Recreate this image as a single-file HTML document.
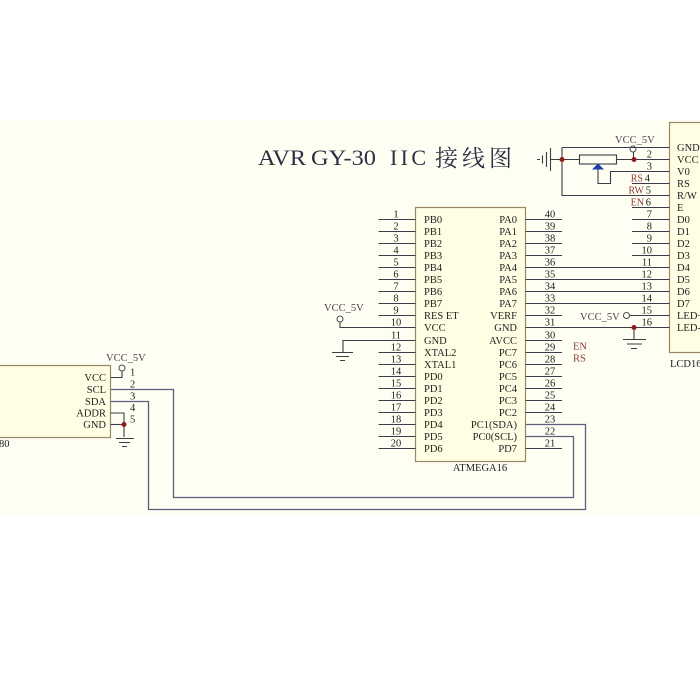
<!DOCTYPE html>
<html><head><meta charset="utf-8"><style>
html,body{margin:0;padding:0;background:#fff;}
svg{display:block;}
</style></head><body>
<svg width="700" height="700" viewBox="0 0 700 700" xmlns="http://www.w3.org/2000/svg" font-family="'Liberation Serif', 'Noto Serif CJK SC', serif">
<rect x="0" y="0" width="700" height="700" fill="#ffffff"/>
<rect x="0" y="120" width="700" height="396" fill="#fefef3"/>

<!-- Title -->
<g fill="#2e2e44" font-size="22">
<text x="258" y="165" textLength="48" lengthAdjust="spacingAndGlyphs">AVR</text>
<text x="311" y="165" textLength="65" lengthAdjust="spacingAndGlyphs">GY-30</text>
<text x="390" y="165" textLength="36">IIC</text>
<text x="435" y="166" font-size="23" textLength="77" font-family="'Liberation Serif','Noto Serif CJK SC',serif">接线图</text>
</g>

<!-- Boxes -->
<rect x="415.5" y="207.5" width="110" height="254" fill="#fffde3" stroke="#968866" stroke-width="1.2"/>
<rect x="669.5" y="122.5" width="45" height="230" fill="#fffde3" stroke="#968866" stroke-width="1.2"/>
<rect x="-5" y="365.5" width="115.5" height="72" fill="#fffde3" stroke="#968866" stroke-width="1.2"/>

<!-- Pin lines -->
<g stroke="#3c3c48" stroke-width="1.1" fill="none">
<path d="M378.5 219.5H415.5M378.5 231.5H415.5M378.5 243.5H415.5M378.5 255.5H415.5M378.5 267.5H415.5M378.5 279.5H415.5M378.5 291.5H415.5M378.5 303.5H415.5M378.5 315.5H415.5"/>
<path d="M340 322V327.5H415.5"/>
<path d="M343 352V340.5H415.5"/>
<path d="M378.5 352.5H415.5M378.5 364.5H415.5M378.5 376.5H415.5M378.5 388.5H415.5M378.5 400.5H415.5M378.5 412.5H415.5M378.5 424.5H415.5M378.5 436.5H415.5M378.5 448.5H415.5"/>
<path d="M525.5 219.5H562M525.5 231.5H562M525.5 243.5H562M525.5 255.5H562"/>
<path d="M525.5 267.5H669.5M525.5 279.5H669.5M525.5 291.5H669.5M525.5 303.5H669.5"/>
<path d="M525.5 315.5H562"/>
<path d="M525.5 327.5H669.5"/>
<path d="M525.5 340.5H562M525.5 352.5H562M525.5 364.5H562M525.5 376.5H562M525.5 388.5H562M525.5 400.5H562M525.5 412.5H562M525.5 448.5H562"/>
<path d="M562 147.5H669.5M562 147.5V195.5H669.5"/>
<path d="M551 159.5H579.5M616.5 159.5H669.5"/>
<path d="M598 169V183.5H610.5V171.5H669.5"/>
<path d="M632 183.5H669.5M632 207.5H669.5"/>
<path d="M632 219.5H669.5M632 231.5H669.5M632 243.5H669.5M632 255.5H669.5"/>
<path d="M629.5 315.5H669.5"/>
<path d="M633.5 152V159.5"/>
<path d="M550.5 148V171M546.5 152V167M542.5 155.5V163.5M537 159.5H540"/>
<path d="M332 352.5H353M336 356.5H349M340 360.5H345"/>
<path d="M634 327.5V339M623 339.5H646M627 344H642M631 348.5H637"/>
<path d="M110.5 377.5H122V371"/>
<path d="M110.5 413H124V437"/>
<path d="M110.5 424.5H124"/>
<path d="M116 438.5H134M119 442.5H130M122 446.5H127"/>
</g>

<!-- Loop wires -->
<g stroke="#5f5f7c" stroke-width="1.3" fill="none">
<path d="M525.5 424.5H585.5V509.5H148.5V401.5H110.5"/>
<path d="M525.5 436.5H573.5V497.5H173.5V389.5H110.5"/>
</g>

<!-- Potentiometer -->
<rect x="579.5" y="155" width="37" height="9" fill="#fefef3" stroke="#3c3c48" stroke-width="1.1"/>
<polygon points="598,163.5 592,169.5 604,169.5" fill="#1c3aa8"/>

<!-- VCC circles -->
<g stroke="#4a4a55" stroke-width="1" fill="none">
<circle cx="633" cy="149" r="3"/>
<circle cx="340" cy="319" r="3"/>
<circle cx="626.5" cy="315.5" r="3"/>
<circle cx="122" cy="368" r="3"/>
</g>

<!-- junctions -->
<g fill="#8b1c1c">
<circle cx="562" cy="159.5" r="2.5"/>
<circle cx="634" cy="159.5" r="2.5"/>
<circle cx="634" cy="327.5" r="2.5"/>
<circle cx="124" cy="424.5" r="2.5"/>
</g>

<!-- VCC labels -->
<g fill="#4a4452" font-size="10.5">
<text x="615" y="143">VCC_5V</text>
<text x="324" y="311">VCC_5V</text>
<text x="580" y="320">VCC_5V</text>
<text x="106" y="361">VCC_5V</text>
</g>

<!-- chip left numbers -->
<g fill="#222" font-size="10.5" text-anchor="middle">
<text x="396" y="217.5">1</text><text x="396" y="229.5">2</text><text x="396" y="241.5">3</text><text x="396" y="253.5">4</text><text x="396" y="265.5">5</text><text x="396" y="277.5">6</text><text x="396" y="289.5">7</text><text x="396" y="301.5">8</text><text x="396" y="313.5">9</text><text x="396" y="325.5">10</text><text x="396" y="338.5">11</text><text x="396" y="350.5">12</text><text x="396" y="362.5">13</text><text x="396" y="374.5">14</text><text x="396" y="386.5">15</text><text x="396" y="398.5">16</text><text x="396" y="410.5">17</text><text x="396" y="422.5">18</text><text x="396" y="434.5">19</text><text x="396" y="446.5">20</text>
</g>
<!-- chip right numbers -->
<g fill="#222" font-size="10.5" text-anchor="middle">
<text x="550" y="217.5">40</text><text x="550" y="229.5">39</text><text x="550" y="241.5">38</text><text x="550" y="253.5">37</text><text x="550" y="265.5">36</text><text x="550" y="277.5">35</text><text x="550" y="289.5">34</text><text x="550" y="301.5">33</text><text x="550" y="313.5">32</text><text x="550" y="325.5">31</text><text x="550" y="338.5">30</text><text x="550" y="350.5">29</text><text x="550" y="362.5">28</text><text x="550" y="374.5">27</text><text x="550" y="386.5">26</text><text x="550" y="398.5">25</text><text x="550" y="410.5">24</text><text x="550" y="422.5">23</text><text x="550" y="434.5">22</text><text x="550" y="446.5">21</text>
</g>
<!-- chip left labels -->
<g fill="#222" font-size="10.5">
<text x="424" y="223">PB0</text><text x="424" y="235">PB1</text><text x="424" y="247">PB2</text><text x="424" y="259">PB3</text><text x="424" y="271">PB4</text><text x="424" y="283">PB5</text><text x="424" y="295">PB6</text><text x="424" y="307">PB7</text><text x="424" y="319">RES ET</text><text x="424" y="331">VCC</text><text x="424" y="344">GND</text><text x="424" y="356">XTAL2</text><text x="424" y="368">XTAL1</text><text x="424" y="380">PD0</text><text x="424" y="392">PD1</text><text x="424" y="404">PD2</text><text x="424" y="416">PD3</text><text x="424" y="428">PD4</text><text x="424" y="440">PD5</text><text x="424" y="452">PD6</text>
</g>
<!-- chip right labels -->
<g fill="#222" font-size="10.5" text-anchor="end">
<text x="517" y="223">PA0</text><text x="517" y="235">PA1</text><text x="517" y="247">PA2</text><text x="517" y="259">PA3</text><text x="517" y="271">PA4</text><text x="517" y="283">PA5</text><text x="517" y="295">PA6</text><text x="517" y="307">PA7</text><text x="517" y="319">VERF</text><text x="517" y="331">GND</text><text x="517" y="344">AVCC</text><text x="517" y="356">PC7</text><text x="517" y="368">PC6</text><text x="517" y="380">PC5</text><text x="517" y="392">PC4</text><text x="517" y="404">PC3</text><text x="517" y="416">PC2</text><text x="517" y="428">PC1(SDA)</text><text x="517" y="440">PC0(SCL)</text><text x="517" y="452">PD7</text>
</g>
<text x="480" y="471" fill="#222" font-size="10.5" text-anchor="middle">ATMEGA16</text>

<!-- EN / RS near chip -->
<g fill="#8e3e34" font-size="10.5">
<text x="573" y="349.5">EN</text>
<text x="573" y="361.5">RS</text>
</g>

<!-- LCD numbers -->
<g fill="#222" font-size="10.5" text-anchor="end">
<text x="652" y="157.5">2</text><text x="652" y="169.5">3</text><text x="650" y="181.5">4</text><text x="651" y="193.5">5</text><text x="651" y="205.5">6</text><text x="652" y="217.5">7</text><text x="652" y="229.5">8</text><text x="652" y="241.5">9</text><text x="652" y="253.5">10</text><text x="652" y="265.5">11</text><text x="652" y="277.5">12</text><text x="652" y="289.5">13</text><text x="652" y="301.5">14</text><text x="652" y="313.5">15</text><text x="652" y="325.5">16</text>
</g>
<g fill="#8e3e34" font-size="10" text-anchor="end">
<text x="643" y="181.5">RS</text><text x="644" y="193.5">RW</text><text x="644" y="205.5">EN</text>
</g>
<!-- LCD labels -->
<g fill="#222" font-size="10.5">
<text x="677" y="151">GND</text><text x="677" y="163">VCC</text><text x="677" y="175">V0</text><text x="677" y="187">RS</text><text x="677" y="199">R/W</text><text x="677" y="211">E</text><text x="677" y="223">D0</text><text x="677" y="235">D1</text><text x="677" y="247">D2</text><text x="677" y="259">D3</text><text x="677" y="271">D4</text><text x="677" y="283">D5</text><text x="677" y="295">D6</text><text x="677" y="307">D7</text><text x="677" y="319">LED+</text><text x="677" y="331">LED-</text>
</g>
<text x="670" y="367" fill="#222" font-size="10.5">LCD16</text>

<!-- GY-30 labels -->
<g fill="#222" font-size="10.5" text-anchor="end">
<text x="106" y="381">VCC</text><text x="106" y="393">SCL</text><text x="106" y="405">SDA</text><text x="106" y="416.5">ADDR</text><text x="106" y="428">GND</text>
</g>
<g fill="#222" font-size="10.5">
<text x="130" y="375.5">1</text><text x="130" y="387.5">2</text><text x="130" y="399.5">3</text><text x="130" y="411">4</text><text x="130" y="422.5">5</text>
</g>
<text x="-1" y="447" fill="#222" font-size="10.5">80</text>
</svg>
</body></html>
